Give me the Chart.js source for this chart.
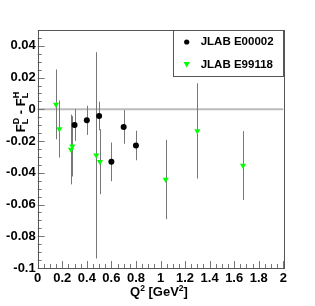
<!DOCTYPE html>
<html><head><meta charset="utf-8">
<script src="https://cdn.jsdelivr.net/npm/chart.js@4/dist/chart.umd.min.js"></script>
<style>html,body{margin:0;padding:0;background:#fff}</style>
</head><body>
<canvas id="c" width="315" height="306"></canvas>
<script>
const seriesNames = ['JLAB E00002', 'JLAB E99118'];
const e00002Q2  = [0.30, 0.40, 0.50, 0.60, 0.70, 0.80];
const e00002Val = [-0.0099, -0.0069, -0.0042, -0.0331, -0.0111, -0.0228];
const e00002Err = [0.0100, 0.0092, 0.0090, 0.0122, 0.0106, 0.0093];
const e99118Q2  = [0.149, 0.176, 0.271, 0.282, 0.477, 0.507, 1.042, 1.300, 1.672];
const e99118Val = [0.0031, -0.0124, -0.0253, -0.0233, -0.0290, -0.0330, -0.0442, -0.0136, -0.0354];
const e99118Err = [0.0220, 0.0180, 0.0220, 0.0190, 0.0650, 0.0205, 0.0250, 0.0300, 0.0217];
const xTickValues = [0, 0.2, 0.4, 0.6, 0.8, 1, 1.2, 1.4, 1.6, 1.8, 2];
const yTickValues = [-0.1, -0.08, -0.06, -0.04, -0.02, 0, 0.02, 0.04];

const FONT = '"Liberation Sans", Arial, sans-serif';
const errs = [e00002Err, e99118Err];

function seg(ctx, parts, size) {
  // measure total width
  let w = 0;
  for (const p of parts) {
    if (p.stack) {
      let m = 0;
      for (const q of p.stack) { ctx.font = 'bold ' + q.s + 'px ' + FONT; m = Math.max(m, ctx.measureText(q.t).width); }
      w += m;
    } else { ctx.font = 'bold ' + p.s + 'px ' + FONT; w += ctx.measureText(p.t).width; }
  }
  let x = -w / 2;
  for (const p of parts) {
    if (p.stack) {
      let m = 0;
      for (const q of p.stack) { ctx.font = 'bold ' + q.s + 'px ' + FONT; ctx.fillText(q.t, x, q.dy); m = Math.max(m, ctx.measureText(q.t).width); }
      x += m;
    } else { ctx.font = 'bold ' + p.s + 'px ' + FONT; ctx.fillText(p.t, x, p.dy || 0); x += ctx.measureText(p.t).width; }
  }
}

const decor = {
  id: 'decor',
  beforeDatasetsDraw(chart) {
    const {ctx, chartArea: a, scales: {x, y}} = chart;
    ctx.save();
    const y0 = y.getPixelForValue(0);
    ctx.strokeStyle = '#bbbbbb'; ctx.lineWidth = 2;
    ctx.beginPath(); ctx.moveTo(a.left, y0); ctx.lineTo(a.right, y0); ctx.stroke();
    ctx.strokeStyle = '#777777'; ctx.lineWidth = 1;
    chart.data.datasets.forEach((ds, i) => {
      ds.data.forEach((p, j) => {
        const px = Math.round(x.getPixelForValue(p.x)) + 0.5;
        const e = errs[i][j];
        ctx.beginPath();
        ctx.moveTo(px, y.getPixelForValue(p.y + e));
        ctx.lineTo(px, y.getPixelForValue(p.y - e));
        ctx.stroke();
      });
    });
    ctx.restore();
  },
  afterDatasetsDraw(chart) {
    const {ctx, chartArea: a, scales: {x, y}} = chart;
    ctx.save();
    // ticks
    ctx.strokeStyle = '#777777'; ctx.lineWidth = 1;
    for (let k = 0; k <= 30; k++) {
      const v = -0.1 + k * 0.005;
      const py = Math.round(y.getPixelForValue(v)) + 0.5;
      const len = (k % 4 === 0) ? 7 : 4;
      ctx.beginPath(); ctx.moveTo(a.left, py); ctx.lineTo(a.left + len, py); ctx.stroke();
    }
    for (let k = 0; k <= 40; k++) {
      const v = k * 0.05;
      const px = Math.round(x.getPixelForValue(v)) + 0.5;
      const len = (k % 4 === 0) ? 7 : 4;
      ctx.beginPath(); ctx.moveTo(px, a.bottom); ctx.lineTo(px, a.bottom - len); ctx.stroke();
    }
    // frame
    ctx.strokeStyle = '#555555';
    ctx.strokeRect(Math.round(a.left) + 0.5, Math.round(a.top) + 0.5, Math.round(a.right - a.left), Math.round(a.bottom - a.top));
    // legend
    const lx = 173.5, ly = 30.5, lw = Math.round(a.right) - 173, lh = 46;
    ctx.fillStyle = '#fff'; ctx.fillRect(lx, ly, lw, lh);
    ctx.strokeRect(lx, ly, lw, lh);
    ctx.fillStyle = '#000';
    ctx.beginPath(); ctx.arc(186.7, 42, 2.6, 0, Math.PI * 2); ctx.fill();
    ctx.fillStyle = '#00ff00';
    ctx.beginPath(); ctx.moveTo(183.5, 62); ctx.lineTo(190, 62); ctx.lineTo(186.7, 67.5); ctx.closePath(); ctx.fill();
    ctx.fillStyle = '#000';
    ctx.font = 'bold 11.5px ' + FONT; ctx.textBaseline = 'middle'; ctx.textAlign = 'left';
    ctx.fillText(chart.data.datasets[0].label, 200.7, 42);
    ctx.fillText(chart.data.datasets[1].label, 200.7, 64.5);
    // x title
    ctx.textBaseline = 'alphabetic';
    ctx.save();
    ctx.translate(159, 296);
    seg(ctx, [{t: 'Q', s: 13}, {t: '2', s: 8.5, dy: -5}, {t: ' [GeV', s: 13}, {t: '2', s: 8.5, dy: -5}, {t: ']', s: 13}]);
    ctx.restore();
    // y title
    ctx.save();
    ctx.translate(25, 112);
    ctx.rotate(-Math.PI / 2);
    seg(ctx, [{t: 'F', s: 13}, {stack: [{t: 'D', s: 9, dy: -6}, {t: 'L', s: 9, dy: 3}]}, {t: ' - ', s: 13},
              {t: 'F', s: 13}, {stack: [{t: 'H', s: 9, dy: -6}, {t: 'L', s: 9, dy: 3}]}]);
    ctx.restore();
    ctx.restore();
  }
};

const fmt = v => String(Math.round(v * 100) / 100);

new Chart(document.getElementById('c'), {
  type: 'scatter',
  data: {
    datasets: [
      { label: seriesNames[0], data: e00002Q2.map((q, i) => ({x: q, y: e00002Val[i]})),
        pointStyle: 'circle', pointRadius: 3, backgroundColor: '#000', borderColor: '#000', borderWidth: 0 },
      { label: seriesNames[1], data: e99118Q2.map((q, i) => ({x: q, y: e99118Val[i]})),
        pointStyle: 'triangle', rotation: 180, pointRadius: 3.5, backgroundColor: '#00ff00', borderColor: '#00ff00', borderWidth: 0 }
    ]
  },
  options: {
    responsive: false, animation: false, devicePixelRatio: 1,
    layout: {padding: {left: 0, top: 30, right: 31.7, bottom: 0}},
    plugins: {legend: {display: false}, tooltip: {enabled: false}},
    scales: {
      x: {
        type: 'linear', min: 0, max: 2,
        afterBuildTicks: s => { s.ticks = xTickValues.map(v => ({value: v})); },
        afterFit: s => { s.height = 38; },
        grid: {display: false, drawTicks: false}, border: {display: false},
        ticks: {color: '#000', font: {family: FONT, size: 13, weight: 'bold'}, padding: 3, maxRotation: 0, autoSkip: false, callback: fmt}
      },
      y: {
        type: 'linear', min: -0.1, max: 0.05,
        afterBuildTicks: s => { s.ticks = yTickValues.map(v => ({value: v})); },
        afterFit: s => { s.width = 37.7; },
        grid: {display: false, drawTicks: false}, border: {display: false},
        ticks: {color: '#000', font: {family: FONT, size: 13, weight: 'bold'}, padding: 2, autoSkip: false, callback: fmt}
      }
    }
  },
  plugins: [decor]
});
</script>
</body></html>
